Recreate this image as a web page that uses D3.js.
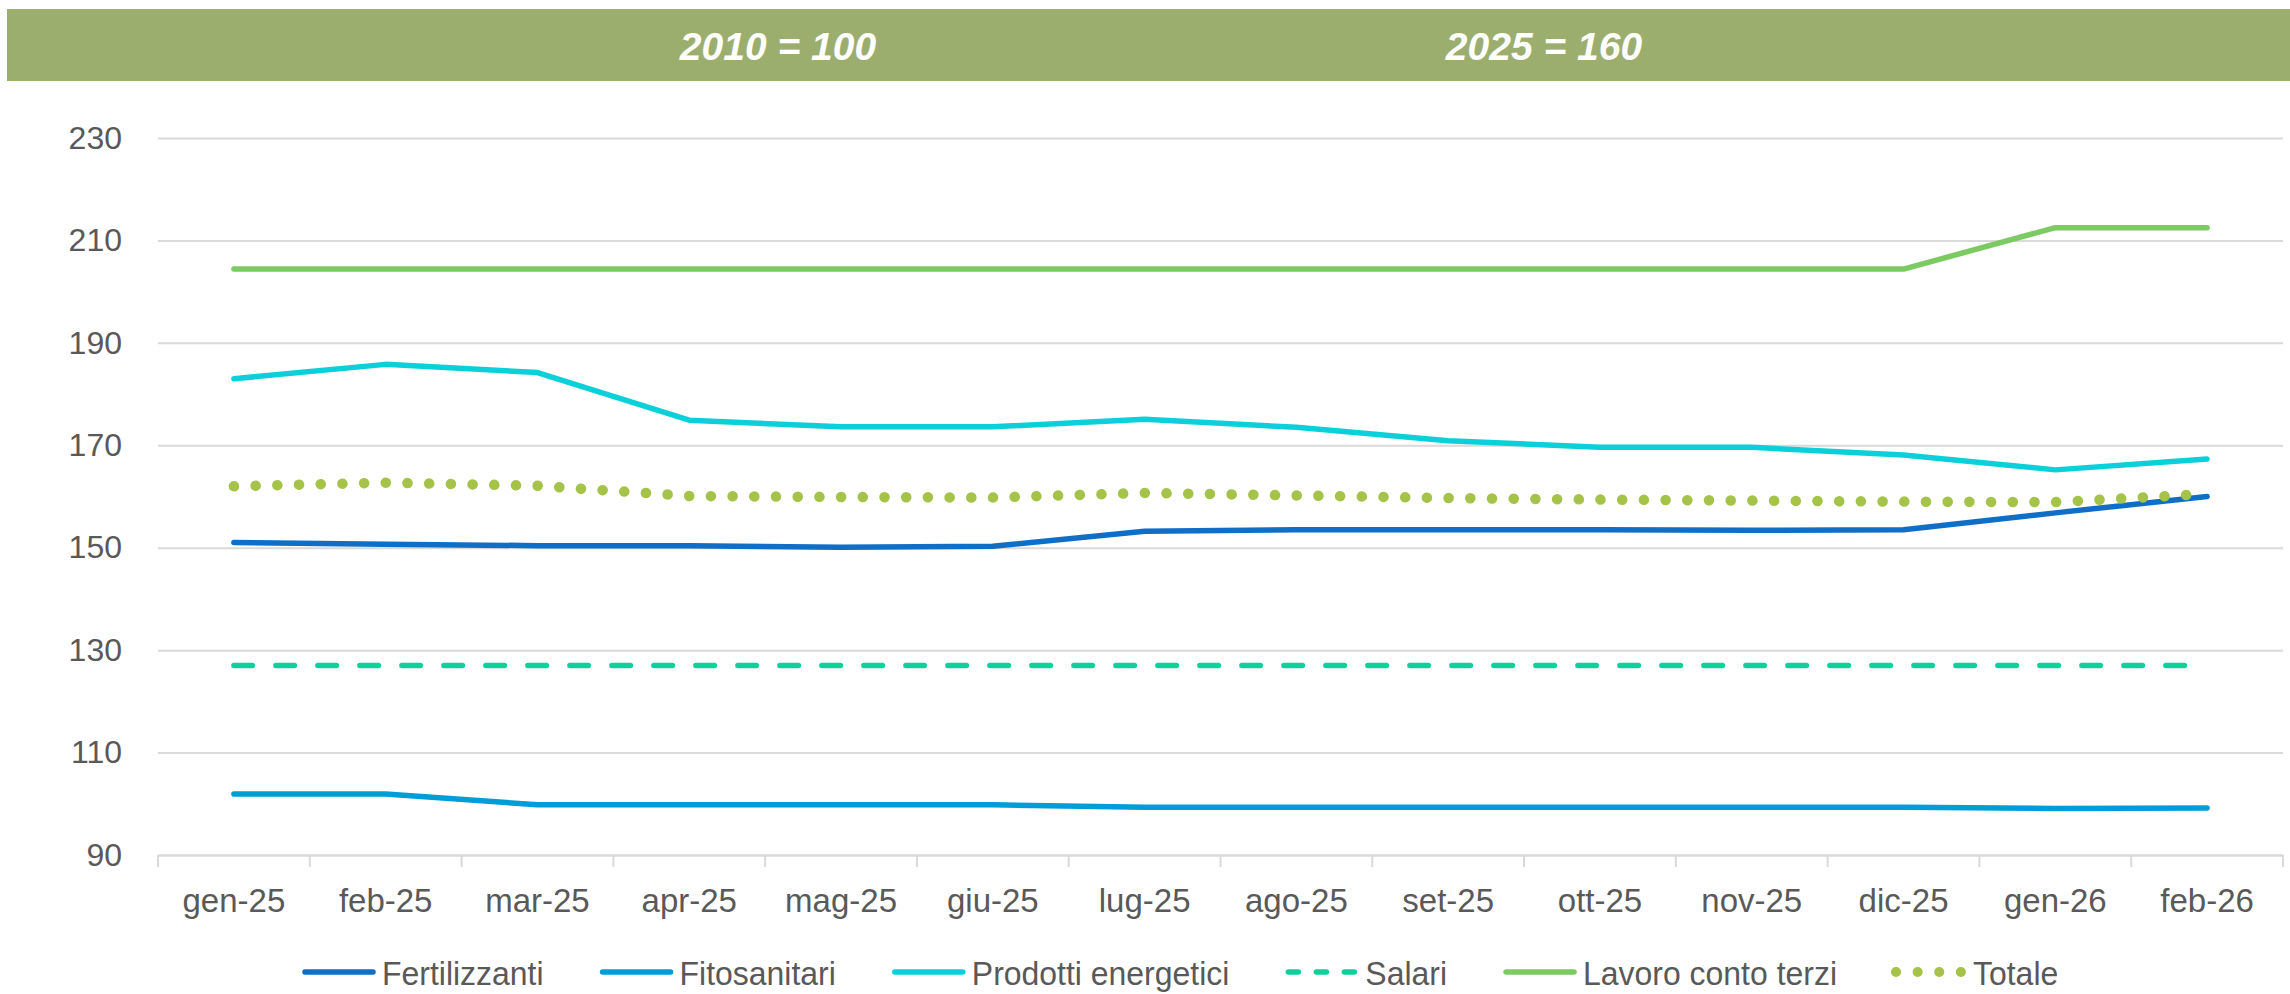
<!DOCTYPE html>
<html>
<head>
<meta charset="utf-8">
<script src="https://cdn.jsdelivr.net/npm/d3@7"></script>
<style>
  body { margin: 0; background: #fff; }
  text { font-family: "Liberation Sans", Arial, sans-serif; }
</style>
</head>
<body>
<script>
// mesi e serie (indici, 2010 = 100)
const mesi = ["gen-25","feb-25","mar-25","apr-25","mag-25","giu-25","lug-25","ago-25","set-25","ott-25","nov-25","dic-25","gen-26","feb-26"];
const fertilizzanti = [151.0,150.7,150.4,150.4,150.1,150.3,153.2,153.5,153.5,153.5,153.4,153.5,156.8,160.0];
const fitosanitari  = [101.9,101.9,99.8,99.8,99.8,99.8,99.3,99.3,99.3,99.3,99.3,99.3,99.1,99.2];
const energetici    = [183.0,185.8,184.2,174.9,173.6,173.6,175.1,173.5,170.9,169.6,169.6,168.1,165.2,167.3];
const salari        = [127.0,127.0,127.0,127.0,127.0,127.0,127.0,127.0,127.0,127.0,127.0,127.0,127.0,127.0];
const lavoroTerzi   = [204.4,204.4,204.4,204.4,204.4,204.4,204.4,204.4,204.4,204.4,204.4,204.4,212.5,212.5];
const totale        = [162.0,162.7,162.1,160.1,159.9,159.8,160.7,160.2,159.7,159.4,159.2,159.0,158.9,160.5];
const yTicks = [90,110,130,150,170,190,210,230];
const headerTexts = ["2010 = 100","2025 = 160"];

function main(){
    const width = 2290;
    const height = 994;
    const left = 158, right = 2283, top = 138, bottom = 855;

    const svg = d3.select("body").append("svg")
        .attr("width", width)
        .attr("height", height);

    // fascia verde in alto
    svg.append("rect")
        .attr("x", 7).attr("y", 9)
        .attr("width", width - 7).attr("height", 72)
        .attr("fill", "#9cae6e");

    svg.selectAll(".hdr")
        .data(headerTexts)
        .enter()
        .append("text")
        .attr("class", "hdr")
        .attr("x", (d,i) => [778, 1544][i])
        .attr("y", 60)
        .attr("text-anchor", "middle")
        .attr("font-size", "39px")
        .attr("font-weight", "bold")
        .attr("font-style", "italic")
        .attr("fill", "#ffffff")
        .text(d => d);

    const x = d3.scaleBand().domain(mesi).range([left, right]);
    const y = d3.scaleLinear().domain([90, 230]).range([bottom, top]);
    const cx = d => x(d) + x.bandwidth() / 2;

    // griglia + etichette asse y
    const yAxis = svg.append("g")
        .attr("transform", "translate(" + left + ",0)")
        .call(d3.axisLeft(y).tickValues(yTicks).tickSize(-(right - left)).tickPadding(36).tickFormat(d3.format("d")));
    yAxis.select(".domain").remove();
    yAxis.selectAll(".tick line").attr("stroke", "#d9d9d9").attr("stroke-width", 2);
    yAxis.selectAll(".tick text")
        .attr("font-size", "32px")
        .attr("font-family", "Liberation Sans, Arial, sans-serif")
        .attr("fill", "#595959");

    // asse x
    const xAxis = svg.append("g")
        .attr("transform", "translate(0," + bottom + ")")
        .call(d3.axisBottom(x).tickSize(0).tickPadding(34));
    xAxis.select(".domain").attr("stroke", "#d9d9d9").attr("stroke-width", 2);
    xAxis.selectAll(".tick text")
        .attr("font-size", "33px")
        .attr("font-family", "Liberation Sans, Arial, sans-serif")
        .attr("fill", "#595959");

    svg.append("g")
        .selectAll("line")
        .data(d3.range(mesi.length + 1))
        .enter()
        .append("line")
        .attr("x1", i => left + i * x.step())
        .attr("x2", i => left + i * x.step())
        .attr("y1", bottom)
        .attr("y2", bottom + 12)
        .attr("stroke", "#d9d9d9")
        .attr("stroke-width", 2);

    const series = [
        {name: "Fertilizzanti", values: fertilizzanti, color: "#0f6fc6", w: 5.5, dash: null},
        {name: "Fitosanitari", values: fitosanitari, color: "#009dd9", w: 5.5, dash: null},
        {name: "Prodotti energetici", values: energetici, color: "#0bd0d9", w: 5.5, dash: null},
        {name: "Salari", values: salari, color: "#10cf9b", w: 5.5, dash: "18.5,23.5"},
        {name: "Lavoro conto terzi", values: lavoroTerzi, color: "#7cca62", w: 5.5, dash: null},
        {name: "Totale", values: totale, color: "#a5c249", w: 10.5, dash: "0.1,21.6"}
    ];

    const line = d3.line()
        .x((d,i) => cx(mesi[i]))
        .y(d => y(d));

    svg.append("g")
        .selectAll("path")
        .data(series)
        .enter()
        .append("path")
        .attr("d", d => line(d.values))
        .attr("fill", "none")
        .attr("stroke", d => d.color)
        .attr("stroke-width", d => d.w)
        .attr("stroke-linecap", "round")
        .attr("stroke-linejoin", "round")
        .attr("stroke-dasharray", d => d.dash);

    // legenda
    const legend = svg.append("g").attr("transform", "translate(0,972)");
    const sx = 0.94;
    let pos = 303;
    series.forEach(s => {
        const g = legend.append("g").attr("transform", "translate(" + pos + ",0)");
        g.append("line")
            .attr("x1", 2).attr("x2", 70)
            .attr("stroke", s.color)
            .attr("stroke-width", s.name === "Totale" ? 10 : 5.5)
            .attr("stroke-linecap", "round")
            .attr("stroke-dasharray", s.name === "Salari" ? "10,18" : (s.name === "Totale" ? "0.1,21.5" : null));
        const t = g.append("text")
            .attr("transform", "translate(79,13) scale(" + sx + ",1)")
            .attr("font-size", "34px")
            .attr("fill", "#595959")
            .text(s.name);
        pos += 79 + t.node().getComputedTextLength() * sx + 57;
    });
}

main();
</script>
</body>
</html>
